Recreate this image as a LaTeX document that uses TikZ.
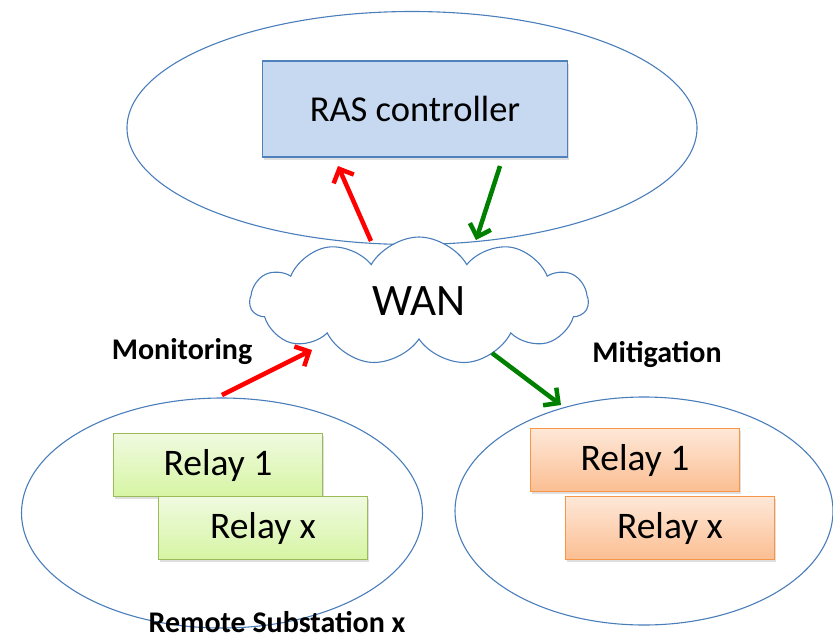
\documentclass[tikz,border=0pt]{standalone}
\usepackage{fontspec}
\setmainfont{Carlito}
\usetikzlibrary{shapes.symbols,shapes.geometric,arrows.meta,shadows}
\definecolor{elb}{RGB}{74,126,187}
\definecolor{rasfill}{RGB}{198,217,241}
\definecolor{rasdraw}{RGB}{79,129,189}
\definecolor{grtop}{RGB}{240,250,224}
\definecolor{grbot}{RGB}{214,245,163}
\definecolor{grdraw}{RGB}{155,187,89}
\definecolor{ortop}{RGB}{254,232,216}
\definecolor{orbot}{RGB}{251,190,146}
\definecolor{ordraw}{RGB}{247,150,70}
\definecolor{arrgreen}{RGB}{0,128,0}
\tikzset{
  zone/.style={ellipse, draw=elb, line width=1.1pt, inner sep=0pt},
  relaygreen/.style={rectangle, draw=grdraw, line width=1.1pt, top color=grtop, bottom color=grbot,
    minimum width=209pt, minimum height=63pt, inner sep=0pt,
    font=\fontsize{37.5}{42}\selectfont,
    drop shadow={shadow xshift=1.5pt, shadow yshift=-2pt, opacity=0.25}},
  relayorange/.style={rectangle, draw=ordraw, line width=1.1pt, top color=ortop, bottom color=orbot,
    minimum width=209pt, minimum height=63pt, inner sep=0pt,
    font=\fontsize{37.5}{42}\selectfont,
    drop shadow={shadow xshift=1.5pt, shadow yshift=-2pt, opacity=0.25}},
  lbl/.style={font=\fontsize{30}{34}\selectfont\bfseries, inner sep=0pt},
  redarr/.style={draw=red, line width=4.5pt, -{Straight Barb[length=11pt,width=22pt,line width=4.5pt]}},
  grnarr/.style={draw=arrgreen, line width=4.5pt, -{Straight Barb[length=11pt,width=22pt,line width=4.5pt]}},
}
\begin{document}
\begin{tikzpicture}[x=1pt,y=-1pt]
\useasboundingbox (0,0) rectangle (833,641);
% zones
\node[zone, minimum width=570pt, minimum height=233pt] (top) at (412,128) {};
\node[zone, minimum width=401pt, minimum height=230pt] (left) at (222,513) {};
\node[zone, minimum width=378pt, minimum height=228pt] (right) at (644,511) {};
% RAS controller
\node[rectangle, draw=rasdraw, line width=1.1pt, fill=rasfill, minimum width=305pt, minimum height=96pt,
  inner sep=0pt, font=\fontsize{36.5}{42}\selectfont,
  drop shadow={shadow xshift=1.5pt, shadow yshift=-2.5pt, opacity=0.25}] (ras) at (415,109) {RAS controller};
% WAN cloud
\node[cloud, draw=elb, fill=white, line width=1.1pt, cloud puffs=11, cloud puff arc=120, aspect=2.6,
  minimum width=338pt, minimum height=128pt, inner sep=0pt, font=\fontsize{45}{50}\selectfont] (wan) at (419,301) {WAN};
% relays
\node[relaygreen] (g1) at (218,465) {Relay 1};
\node[relaygreen] (gx) at (263,528) {Relay x};
\node[relayorange] (o1) at (635,460) {Relay 1};
\node[relayorange] (ox) at (670,528) {Relay x};
% labels
\node[lbl] (mon) at (182,352) {Monitoring};
\node[lbl] (mit) at (657,354) {Mitigation};
\node[lbl] (rem) at (277,622) {Remote Substation x};
% arrow end points
\coordinate (a1s) at (371,241);
\coordinate (a1e) at (338,166);
\coordinate (a2s) at (500,166);
\coordinate (a2e) at (476,240);
\coordinate (a3s) at (222,395);
\coordinate (a3e) at (312,350);
\coordinate (a4s) at (492,353);
\coordinate (a4e) at (561,405);
\draw[redarr] (a1s) -- (a1e);
\draw[grnarr] (a2s) -- (a2e);
\draw[redarr] (a3s) -- (a3e);
\draw[grnarr] (a4s) -- (a4e);
\end{tikzpicture}
\end{document}
